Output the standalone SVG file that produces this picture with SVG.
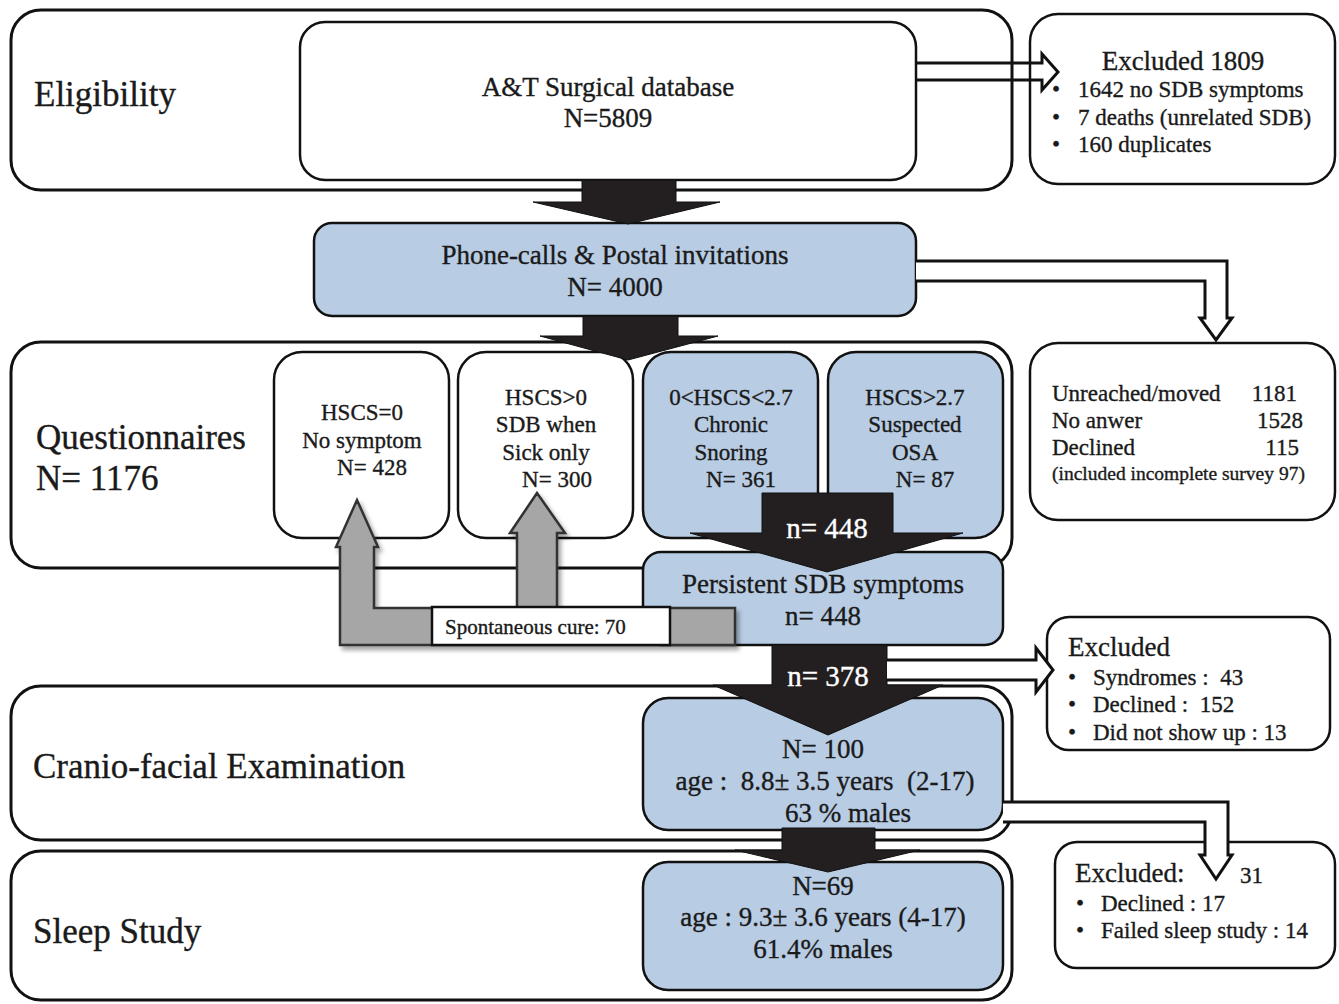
<svg xmlns="http://www.w3.org/2000/svg" width="1339" height="1004" viewBox="0 0 1339 1004">
<style>
text{font-family:"Liberation Serif","Times New Roman",serif;fill:#1a1a1a;stroke:#1a1a1a;stroke-width:0.35}
.stage{fill:#fff;stroke:#111;stroke-width:3}
.wb{fill:#fff;stroke:#111;stroke-width:2.5}
.bb{fill:#b8cce4;stroke:#111;stroke-width:2.5}
.big{font-size:35px}
.mid{font-size:27px}
.sm{font-size:23px}
.c{text-anchor:middle}
.blk{fill:#231f20;stroke:#111;stroke-width:1}
.hol{fill:#fff;stroke:#111;stroke-width:3}
.wl{fill:#fff;stroke:#fff;font-size:29px;text-anchor:middle}
</style>
<defs>
<filter id="sh" x="-10%" y="-10%" width="130%" height="130%">
<feDropShadow dx="3" dy="4" stdDeviation="2" flood-color="#000" flood-opacity="0.35"/>
</filter>
</defs>
<rect width="1339" height="1004" fill="#fff"/>

<g id="stage-eligibility"><rect class="stage" x="11" y="10" width="1001" height="180" rx="30"/><text class="big" x="34" y="106">Eligibility</text></g>
<g id="stage-questionnaires"><rect class="stage" x="11" y="342" width="1001" height="226" rx="30"/><text class="big" x="36" y="449">Questionnaires</text><text class="big" x="36" y="490">N= 1176</text></g>
<g id="stage-cranio"><rect class="stage" x="11" y="686" width="1001" height="154" rx="30"/><text class="big" x="33" y="778" font-size="36">Cranio-facial Examination</text></g>
<g id="stage-sleep"><rect class="stage" x="11" y="851" width="1001" height="149" rx="30"/><text class="big" x="33" y="943">Sleep Study</text></g>

<g id="node-database"><rect class="wb" x="300" y="22" width="616" height="158" rx="25"/><text class="mid c" x="608" y="96">A&amp;T Surgical database</text><text class="mid c" x="608" y="127">N=5809</text></g>
<g id="node-phone"><rect class="bb" x="314" y="223" width="602" height="93" rx="18"/><text class="mid c" x="615" y="264">Phone-calls &amp; Postal invitations</text><text class="mid c" x="615" y="296">N= 4000</text></g>

<g id="node-hscs0"><rect class="wb" x="274" y="352" width="175" height="186" rx="28"/><text class="sm c" x="362" y="420">HSCS=0</text><text class="sm c" x="362" y="448">No symptom</text><text class="sm c" x="372" y="475">N= 428</text></g>
<g id="node-sick"><rect class="wb" x="458" y="352" width="175" height="186" rx="28"/><text class="sm c" x="546" y="405">HSCS&gt;0</text><text class="sm c" x="546" y="432">SDB when</text><text class="sm c" x="546" y="460">Sick only</text><text class="sm c" x="557" y="487">N= 300</text></g>
<g id="node-snoring"><rect class="bb" x="643" y="352" width="175" height="186" rx="28"/><text class="sm c" x="731" y="405">0&lt;HSCS&lt;2.7</text><text class="sm c" x="731" y="432">Chronic</text><text class="sm c" x="731" y="460">Snoring</text><text class="sm c" x="741" y="487">N= 361</text></g>
<g id="node-osa"><rect class="bb" x="828" y="352" width="175" height="186" rx="28"/><text class="sm c" x="915" y="405">HSCS&gt;2.7</text><text class="sm c" x="915" y="432">Suspected</text><text class="sm c" x="915" y="460">OSA</text><text class="sm c" x="925" y="487">N= 87</text></g>

<g id="node-persistent"><rect class="bb" x="643" y="552" width="360" height="93" rx="18"/><text class="mid c" x="823" y="593" font-size="28">Persistent SDB symptoms</text><text class="mid c" x="823" y="625">n= 448</text></g>
<g id="node-n100"><rect class="bb" x="643" y="698" width="360" height="132" rx="25"/><text class="mid c" x="823" y="758">N= 100</text><text class="mid c" x="825" y="790" font-size="26" xml:space="preserve">age :  8.8± 3.5 years  (2-17)</text><text class="mid c" x="848" y="822">63 % males</text></g>
<g id="node-n69"><rect class="bb" x="643" y="862" width="360" height="128" rx="25"/><text class="mid c" x="823" y="895">N=69</text><text class="mid c" x="823" y="926" font-size="26">age : 9.3± 3.6 years (4-17)</text><text class="mid c" x="823" y="958">61.4% males</text></g>

<g id="node-excl1809"><rect class="wb" x="1030" y="14" width="305" height="170" rx="28"/><text class="mid c" x="1183" y="70">Excluded 1809</text>
<text class="sm" x="1052" y="97">•</text><text class="sm" x="1078" y="97">1642 no SDB symptoms</text>
<text class="sm" x="1052" y="125">•</text><text class="sm" x="1078" y="125">7 deaths (unrelated SDB)</text>
<text class="sm" x="1052" y="152">•</text><text class="sm" x="1078" y="152">160 duplicates</text></g>

<g id="node-unreached"><rect class="wb" x="1030" y="343" width="305" height="177" rx="28"/>
<text class="sm" x="1052" y="401" font-size="24">Unreached/moved</text><text class="sm" x="1297" y="401" text-anchor="end">1181</text>
<text class="sm" x="1052" y="428" font-size="24">No anwer</text><text class="sm" x="1303" y="428" text-anchor="end">1528</text>
<text class="sm" x="1052" y="455" font-size="24">Declined</text><text class="sm" x="1299" y="455" text-anchor="end">115</text>
<text x="1052" y="480" font-size="19.5">(included incomplete survey 97)</text></g>

<g id="node-excl2"><rect class="wb" x="1047" y="617" width="283" height="133" rx="22"/><text class="mid" x="1068" y="656">Excluded</text>
<text class="sm" x="1068" y="685">•</text><text class="sm" x="1093" y="685" xml:space="preserve">Syndromes :  43</text>
<text class="sm" x="1068" y="712">•</text><text class="sm" x="1093" y="712" xml:space="preserve">Declined :  152</text>
<text class="sm" x="1068" y="740">•</text><text class="sm" x="1093" y="740">Did not show up : 13</text></g>

<g id="node-excl31"><rect class="wb" x="1055" y="842" width="280" height="126" rx="22"/><text class="mid" x="1075" y="882">Excluded:</text><text class="sm" x="1240" y="883">31</text>
<text class="sm" x="1076" y="911">•</text><text class="sm" x="1101" y="911">Declined : 17</text>
<text class="sm" x="1076" y="938">•</text><text class="sm" x="1101" y="938">Failed sleep study : 14</text></g>

<g id="connectors">
<polygon class="blk" points="582,180 676,180 676,202 720,202 628,224 533,202 582,202"/>
<polygon class="blk" points="583,316 678,316 678,336 718,336 628,360 540,336 583,336"/>
<polygon class="blk" points="762,493 893,493 893,533 963,533 827,572 690,533 762,533"/>
<text class="wl" x="827" y="538">n= 448</text>
<polygon class="blk" points="772,645 887,645 887,685 943,685 828,735 713,685 772,685"/>
<text class="wl" x="828" y="686">n= 378</text>
<polygon class="blk" points="782,828 875,828 875,850 920,850 828,872 735,850 782,850"/>

<path d="M340,645 V547 H336 L357,500 L378,547 H374 V608 H517 V533 H510 L537,493 L565,533 H557 V608 H735 V645 Z" fill="#a6a6a6" stroke="#333" stroke-width="2.5" filter="url(#sh)"/>
<g id="label-cure"><rect class="wb" x="432" y="607" width="238" height="38"/><text x="445" y="634" font-size="21">Spontaneous cure: 70</text></g>

<path d="M916,63 H1042 V54 L1058,72 L1042,90 V80 H916" fill="none" stroke="#111" stroke-width="3"/>
<path class="hol" d="M916,261 H1227 V318 H1232 L1216,340 L1200,318 H1205 V281 H916"/>
<path class="hol" d="M887,660 H1036 V648 L1053,670 L1036,692 V680 H887"/>
<path class="hol" d="M1003,802 H1228 V855 H1232 L1216,879 L1200,855 H1205 V822 H1003"/>
</g>
</svg>
